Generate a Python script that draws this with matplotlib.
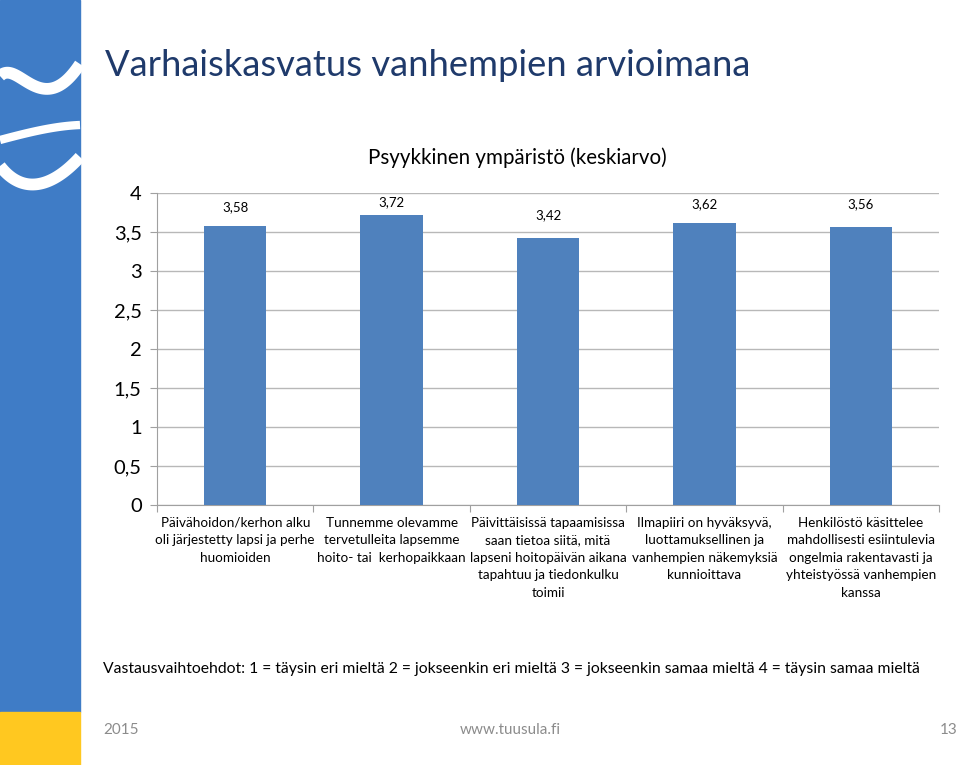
import matplotlib
matplotlib.use("Agg")
import matplotlib.pyplot as plt
import numpy as np

plt.rcParams['font.family'] = ['Lato', 'DejaVu Sans']

# data
kategoriat = [
    "Päivähoidon/kerhon alku\noli järjestetty lapsi ja perhe\nhuomioiden",
    "Tunnemme olevamme\ntervetulleita lapsemme\nhoito- tai  kerhopaikkaan",
    "Päivittäisissä tapaamisissa\nsaan tietoa siitä, mitä\nlapseni hoitopäivän aikana\ntapahtuu ja tiedonkulku\ntoimii",
    "Ilmapiiri on hyväksyvä,\nluottamuksellinen ja\nvanhempien näkemyksiä\nkunnioittava",
    "Henkilöstö käsittelee\nmahdollisesti esiintulevia\nongelmia rakentavasti ja\nyhteistyössä vanhempien\nkanssa",
]
keskiarvo = [3.58, 3.72, 3.42, 3.62, 3.56]
y_ticks = [0, 0.5, 1, 1.5, 2, 2.5, 3, 3.5, 4]
y_labels = ["0", "0,5", "1", "1,5", "2", "2,5", "3", "3,5", "4"]


def bezier(p0, p1, p2, p3, n=60):
    t = np.linspace(0, 1, n)[:, None]
    p = ((1 - t) ** 3) * np.array(p0) + 3 * ((1 - t) ** 2) * t * np.array(p1) \
        + 3 * (1 - t) * t ** 2 * np.array(p2) + t ** 3 * np.array(p3)
    return p[:, 0], p[:, 1]


fig = plt.figure(figsize=(9.6, 7.65), dpi=100)

# vasen sininen palkki + keltainen alaosa
deco = fig.add_axes([0, 0, 1, 1])
deco.set_xlim(0, 960)
deco.set_ylim(765, 0)
deco.axis('off')
deco.add_patch(plt.Rectangle((0, 0), 80, 712, color='#3F7CC6'))
deco.add_patch(plt.Rectangle((0, 712), 80, 53, color='#FFC820'))
# valkoiset aaltoviivat
for pts, lw in [(((0, 76), (18, 58), (42, 122), (80, 64)), 8.5),
                (((0, 140), (30, 132), (55, 126), (80, 125)), 6),
                (((0, 166), (20, 192), (48, 192), (80, 157)), 8.5)]:
    bx, by = bezier(*pts)
    deco.plot(bx, by, color='white', lw=lw, solid_capstyle='butt')
deco.set_xlim(0, 960)
deco.set_ylim(765, 0)

# otsikot
fig.text(105 / 960, 1 - 66 / 765, "Varhaiskasvatus vanhempien arvioimana",
         fontsize=26.2, color='#1F3A6B', va='center', ha='left')
fig.text(517 / 960, 1 - 158 / 765, "Psyykkinen ympäristö (keskiarvo)",
         fontsize=14.8, color='black', va='center', ha='center')

ax = fig.add_axes([157 / 960, 1 - 505 / 765, (939 - 157) / 960, (505 - 193) / 765])
x = np.arange(len(keskiarvo))
ax.bar(x, keskiarvo, width=0.4, color='#4F81BD', zorder=3)
ax.set_xlim(-0.5, len(keskiarvo) - 0.5)
ax.set_ylim(0, 4)
ax.set_yticks(y_ticks)
ax.set_yticklabels(y_labels, fontsize=14.5)
ax.grid(axis='y', color='#B8B8B8', lw=1, zorder=0)
for s in ['top', 'right']:
    ax.spines[s].set_visible(False)
ax.spines['left'].set_color('#A0A0A0')
ax.spines['bottom'].set_color('#A0A0A0')
ax.tick_params(axis='y', length=5, color='#A0A0A0', pad=6)
ax.set_xticks(np.arange(-0.5, len(keskiarvo), 1.0))
ax.set_xticklabels([])
ax.tick_params(axis='x', length=5, color='#A0A0A0')

# arvot
arvo_y = [3.82, 3.88, 3.72, 3.86, 3.86]
for i, v in enumerate(keskiarvo):
    ax.text(i, arvo_y[i], f"{v:.2f}".replace('.', ','), ha='center', va='center', fontsize=9.5)

# kategoriat
for i, k in enumerate(kategoriat):
    ax.text(i, -0.15, k, ha='center', va='top', fontsize=9.7, linespacing=1.55)

fig.text(103 / 960, 1 - 669 / 765,
         "Vastausvaihtoehdot: 1 = täysin eri mieltä 2 = jokseenkin eri mieltä 3 = jokseenkin samaa mieltä 4 = täysin samaa mieltä",
         fontsize=11.35, va='center', ha='left')

fig.text(103 / 960, 1 - 730 / 765, "2015", fontsize=11, color='#8C8C8C', va='center')
fig.text(510 / 960, 1 - 730 / 765, "www.tuusula.fi", fontsize=11, color='#8C8C8C', va='center', ha='center')
fig.text(958 / 960, 1 - 730 / 765, "13", fontsize=11, color='#8C8C8C', va='center', ha='right')

fig.savefig("out.png", dpi=100)
